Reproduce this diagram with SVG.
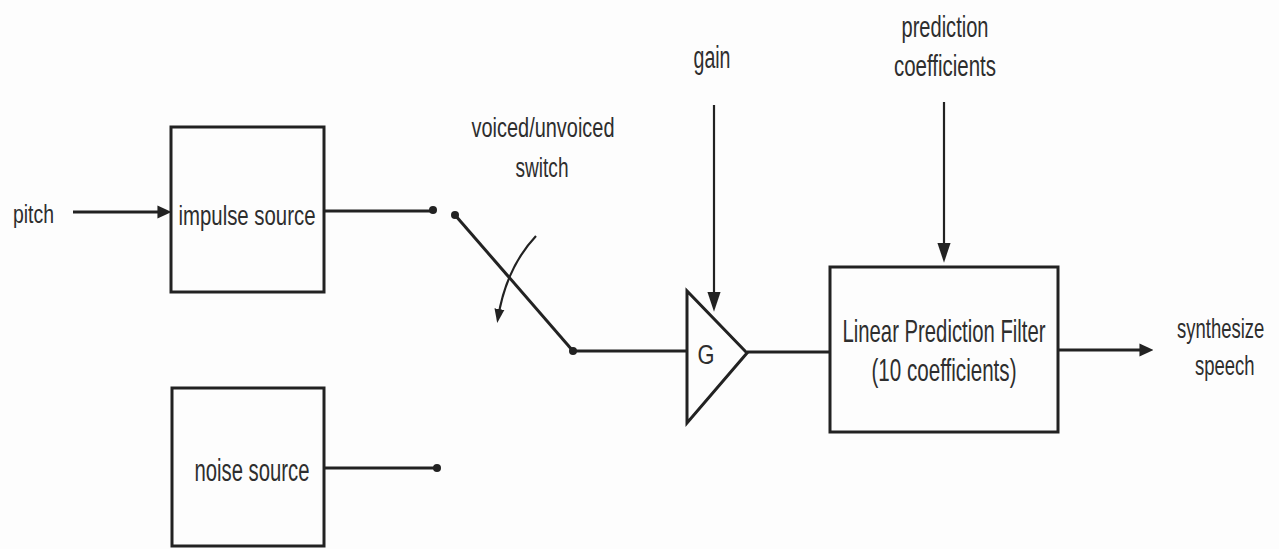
<svg xmlns="http://www.w3.org/2000/svg" width="1279" height="549" viewBox="0 0 1279 549">
  <style>
    .bg { fill: #fdfdfd; }
    .box { fill: none; stroke: #222; stroke-width: 3; }
    .wire { fill: none; stroke: #222; stroke-width: 3; }
    .thin { fill: none; stroke: #222; stroke-width: 2.2; }
    .dot { fill: #222; }
    .lbl { font-family: "Liberation Sans", Arial, sans-serif; fill: #2e2e2e; text-anchor: middle; }
    .lbls { font-family: "Liberation Sans", Arial, sans-serif; fill: #2e2e2e; text-anchor: start; }
  </style>
  <defs>
    <marker id="ah" markerUnits="userSpaceOnUse" markerWidth="20" markerHeight="14" viewBox="0 0 18 12" refX="12" refY="6" orient="auto">
      <path d="M0,0 L18,6 L0,12 Z" fill="#222"/>
    </marker>
    <marker id="ahs" markerUnits="userSpaceOnUse" markerWidth="14" markerHeight="14" viewBox="0 0 13 12" refX="7" refY="6" orient="auto">
      <path d="M0,0 L13,6 L0,12 Z" fill="#222"/>
    </marker>
    <marker id="ahc" markerUnits="userSpaceOnUse" markerWidth="14" markerHeight="12" viewBox="0 0 14 10" refX="9" refY="5" orient="auto">
      <path d="M0,0 L14,5 L0,10 Z" fill="#222"/>
    </marker>
  </defs>

  <rect class="bg" x="0" y="0" width="1279" height="549"/>

  <g id="connectors">
    <!-- pitch input -->
    <line class="wire" x1="73" y1="212" x2="165" y2="212" marker-end="url(#ahs)"/>
    <!-- impulse source output -->
    <line class="wire" x1="324" y1="211" x2="433" y2="211"/>
    <!-- noise source output -->
    <line class="wire" x1="324" y1="468" x2="437" y2="468"/>
    <!-- switch to amplifier -->
    <line class="wire" x1="573" y1="351" x2="687" y2="351"/>
    <!-- gain input -->
    <line class="thin" x1="714" y1="105" x2="714" y2="305" marker-end="url(#ah)"/>
    <!-- amplifier to filter -->
    <line class="wire" x1="747" y1="352" x2="830" y2="352"/>
    <!-- prediction coefficients input -->
    <line class="thin" x1="944" y1="102" x2="944" y2="256" marker-end="url(#ah)"/>
    <!-- output -->
    <line class="wire" x1="1058" y1="350" x2="1147" y2="350" marker-end="url(#ahs)"/>
  </g>

  <g id="label-pitch">
    <text class="lbls" x="13" y="223" font-size="25" textLength="41" lengthAdjust="spacingAndGlyphs">pitch</text>
  </g>

  <g id="node-impulse-source">
    <rect class="box" x="171" y="127" width="153" height="165"/>
    <text class="lbl" x="247" y="225" font-size="27" textLength="137" lengthAdjust="spacingAndGlyphs">impulse source</text>
  </g>

  <g id="node-noise-source">
    <rect class="box" x="172" y="388" width="152" height="158"/>
    <text class="lbl" x="252" y="481" font-size="31" textLength="115" lengthAdjust="spacingAndGlyphs">noise source</text>
  </g>

  <g id="node-switch">
    <circle class="dot" cx="433" cy="210" r="4"/>
    <circle class="dot" cx="437" cy="468" r="4"/>
    <circle class="dot" cx="455" cy="215" r="4"/>
    <line class="wire" x1="455" y1="215" x2="573" y2="351"/>
    <circle class="dot" cx="573" cy="351" r="4"/>
    <path class="thin" d="M536,236 Q506,268 498,318" marker-end="url(#ahc)"/>
    <text class="lbl" x="543" y="137" font-size="27" textLength="143" lengthAdjust="spacingAndGlyphs">voiced/unvoiced</text>
    <text class="lbl" x="542" y="177" font-size="27" textLength="53" lengthAdjust="spacingAndGlyphs">switch</text>
  </g>

  <g id="node-gain-amplifier">
    <polygon class="box" points="687,291 687,423 747,353" stroke-width="2.5"/>
    <text class="lbl" x="706" y="364" font-size="27" textLength="17" lengthAdjust="spacingAndGlyphs">G</text>
  </g>

  <g id="label-gain">
    <text class="lbl" x="712" y="68" font-size="31" textLength="37" lengthAdjust="spacingAndGlyphs">gain</text>
  </g>

  <g id="label-prediction-coefficients">
    <text class="lbl" x="945" y="37" font-size="29" textLength="87" lengthAdjust="spacingAndGlyphs">prediction</text>
    <text class="lbl" x="945" y="76" font-size="29" textLength="102" lengthAdjust="spacingAndGlyphs">coefficients</text>
  </g>

  <g id="node-linear-prediction-filter">
    <rect class="box" x="830" y="267" width="228" height="165"/>
    <text class="lbl" x="944" y="342" font-size="32" textLength="203" lengthAdjust="spacingAndGlyphs">Linear Prediction Filter</text>
    <text class="lbl" x="944" y="381" font-size="32" textLength="145" lengthAdjust="spacingAndGlyphs">(10 coefficients)</text>
  </g>

  <g id="label-output">
    <text class="lbls" transform="translate(1177,338) scale(0.66,1)" x="0" y="0" font-size="28">synthesize</text>
    <text class="lbls" transform="translate(1195,375) scale(0.66,1)" x="0" y="0" font-size="28">speech</text>
  </g>
</svg>
